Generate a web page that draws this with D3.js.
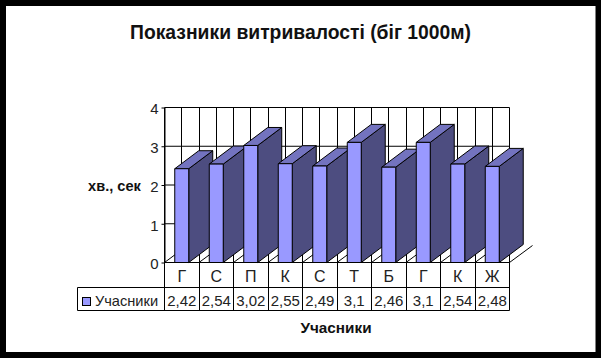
<!DOCTYPE html>
<html>
<head>
<meta charset="utf-8">
<script src="https://d3js.org/d3.v7.min.js"></script>
<style>
  html, body { margin: 0; padding: 0; background: #fff; }
  svg { display: block; font-family: "Liberation Sans", Arial, sans-serif; }
</style>
</head>
<body>
<div id="chart"></div>
<script>
/* 3D column chart with data table */

const categories = ["Г", "С", "П", "К", "С", "Т", "Б", "Г", "К", "Ж"];
const values = [2.42, 2.54, 3.02, 2.55, 2.49, 3.1, 2.46, 3.1, 2.54, 2.48];
const yTicks = [0, 1, 2, 3, 4];
const seriesName = "Учасники";
const chartTitle = "Показники витривалості (біг 1000м)";
const yTitle = "хв., сек";

const width = 601,
  height = 358,
  margin = ({ top: 107.5, right: 91.5, bottom: 95.5, left: 164.5 });

const depthX = 24, depthY = 18; // shift of the column back face
const floorX = 23, floorY = 17;
const rowCat = 25, rowVal = 23;
const legendLeft = 77.5;

const svg = d3.select("#chart")
  .append("svg")
  .attr("width", width)
  .attr("height", height);

// black frame
svg.append("rect")
  .attr("x", 3).attr("y", 3)
  .attr("width", width - 5.5).attr("height", height - 6)
  .attr("fill", "white")
  .attr("stroke", "black")
  .attr("stroke-width", 6);

let x = d3.scaleBand()
  .domain(d3.range(categories.length))
  .range([margin.left, width - margin.right])
  .paddingInner(0.595)
  .paddingOuter(0.2975);

let y = d3.scaleLinear()
  .domain([0, 4])
  .range([height - margin.bottom, margin.top]);

const step = x.step();
const left = margin.left, right = width - margin.right;
const y0 = y(0);

// wall grid, two vertical lines per category
const grid = svg.append("g").attr("stroke", "black").attr("fill", "none");

grid.selectAll("line.h")
  .data(yTicks)
  .join("line")
  .attr("class", "h")
  .attr("x1", left).attr("x2", right)
  .attr("y1", d => y(d)).attr("y2", d => y(d));

grid.selectAll("line.v")
  .data(d3.range(categories.length * 2 + 1))
  .join("line")
  .attr("class", "v")
  .attr("x1", d => Math.floor(left + d * step / 2) + 0.5)
  .attr("x2", d => Math.floor(left + d * step / 2) + 0.5)
  .attr("y1", y(4)).attr("y2", y0);

// floor diagonals
grid.selectAll("line.f")
  .data(d3.range(categories.length + 1))
  .join("line")
  .attr("class", "f")
  .attr("x1", d => left + d * step)
  .attr("x2", d => left + d * step + floorX)
  .attr("y1", y0)
  .attr("y2", y0 - floorY);

// columns, later ones sit over the side of the earlier ones
const bars = svg.append("g")
  .attr("stroke", "black")
  .attr("stroke-linejoin", "round");

const bar = bars.selectAll("g")
  .data(values)
  .join("g");

bar.append("path") // side
  .attr("fill", "#4d4d80")
  .attr("d", (d, i) => {
    const x1 = x(i) + x.bandwidth();
    return `M${x1},${y(d)}L${x1 + depthX},${y(d) - depthY}L${x1 + depthX},${y0 - depthY}L${x1},${y0}Z`;
  });

bar.append("path") // top
  .attr("fill", "#7373bf")
  .attr("d", (d, i) => {
    const x0 = x(i), x1 = x0 + x.bandwidth();
    return `M${x0},${y(d)}L${x0 + depthX},${y(d) - depthY}L${x1 + depthX},${y(d) - depthY}L${x1},${y(d)}Z`;
  });

bar.append("rect") // front
  .attr("fill", "#9999ff")
  .attr("x", (d, i) => x(i))
  .attr("y", d => y(d))
  .attr("width", x.bandwidth())
  .attr("height", d => y0 - y(d));

// y axis
const yAxis = svg.append("g")
  .attr("transform", `translate(${left},0)`)
  .call(d3.axisLeft(y).tickValues(yTicks).tickFormat(d3.format("d")).tickSize(3).tickPadding(3).tickSizeOuter(0));
yAxis.select(".domain").attr("stroke", "black");
yAxis.selectAll("text")
  .attr("font-size", 15)
  .attr("font-family", "Liberation Sans")
  .attr("fill", "#222")
  .attr("dy", "0.42em");

// data table
const table = svg.append("g").attr("stroke", "black").attr("fill", "none");
const yRow1 = y0 + rowCat, yRow2 = yRow1 + rowVal;

table.append("path").attr("d",
  `M${left},${y0}H${right}V${yRow2}H${legendLeft}V${yRow1}H${right}M${left},${y0}V${yRow2}`);

table.selectAll("line")
  .data(d3.range(1, categories.length))
  .join("line")
  .attr("x1", d => Math.floor(left + d * step) + 0.5)
  .attr("x2", d => Math.floor(left + d * step) + 0.5)
  .attr("y1", y0).attr("y2", yRow2);

svg.append("g").selectAll("text")
  .data(categories)
  .join("text")
  .attr("x", (d, i) => left + (i + 0.5) * step)
  .attr("y", y0 + 19)
  .attr("text-anchor", "middle")
  .attr("font-size", 16)
  .attr("fill", "#222")
  .text(d => d);

svg.append("g").selectAll("text")
  .data(values)
  .join("text")
  .attr("x", (d, i) => left + (i + 0.5) * step)
  .attr("y", yRow1 + 18.5)
  .attr("text-anchor", "middle")
  .attr("font-size", 15)
  .attr("fill", "#222")
  .text(d => String(d).replace(".", ","));

// legend cell
svg.append("rect")
  .attr("x", 82.5).attr("y", yRow1 + 10)
  .attr("width", 8).attr("height", 8)
  .attr("fill", "#9999ff")
  .attr("stroke", "black");

svg.append("text")
  .attr("x", 95).attr("y", yRow1 + 18.5)
  .attr("font-size", 14.6)
  .attr("fill", "#222")
  .text(seriesName);

// titles
svg.append("text")
  .attr("x", 300.5).attr("y", 39)
  .attr("text-anchor", "middle")
  .attr("font-size", 20)
  .attr("font-weight", "bold")
  .attr("fill", "#111")
  .attr("textLength", 341)
  .attr("lengthAdjust", "spacingAndGlyphs")
  .text(chartTitle);

svg.append("text")
  .attr("x", 114.5).attr("y", 191)
  .attr("text-anchor", "middle")
  .attr("font-size", 14.6)
  .attr("font-weight", "bold")
  .attr("fill", "#111")
  .text(yTitle);

svg.append("text")
  .attr("x", 336).attr("y", 333)
  .attr("text-anchor", "middle")
  .attr("font-size", 15.3)
  .attr("font-weight", "bold")
  .attr("fill", "#111")
  .text(seriesName);
</script>
</body>
</html>
